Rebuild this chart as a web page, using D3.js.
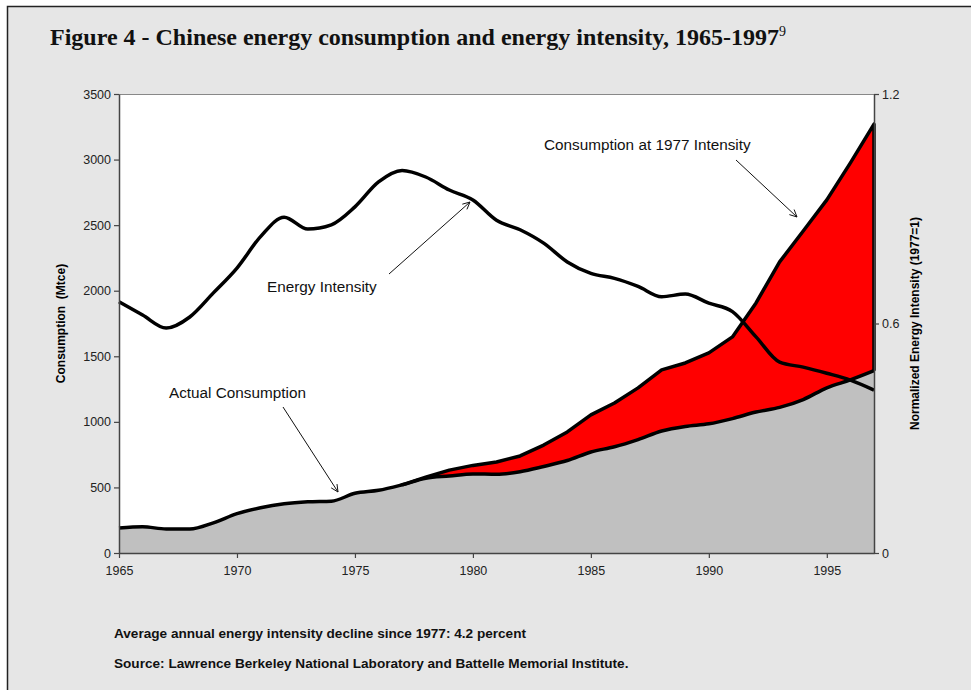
<!DOCTYPE html>
<meta charset="utf-8">
<head>
<title>Chinese energy consumption and energy intensity, 1965-1997</title>
<script src="https://cdn.jsdelivr.net/npm/d3@7/dist/d3.min.js"></script>
<style>
  body { margin: 0; background: #fff; }
  .tick text { font-family: Arial, "Liberation Sans", sans-serif; font-size: 12.5px; fill: #222; }
</style>
</head>
<body>
<div id="chart"></div>
<script>
// data
var years = d3.range(1965, 1998);
var actual = [190, 200, 183, 183, 230, 300, 345, 375, 390, 395, 455, 478, 520, 570, 587, 603,
              600, 620, 660, 705, 770, 810, 865, 930, 965, 985, 1025, 1075, 1110, 1170, 1260, 1320, 1390];
// consumption at 1977 intensity, 1977-1997
var at1977Years = d3.range(1977, 1998);
var at1977 = [520, 578, 632, 668, 694, 740, 823, 923, 1053, 1144, 1259, 1396, 1449, 1526, 1648,
              1907, 2220, 2455, 2693, 2975, 3270];
var intensity = [0.657, 0.622, 0.588, 0.617, 0.680, 0.745, 0.827, 0.878, 0.847, 0.858, 0.905,
                 0.970, 1.0, 0.983, 0.949, 0.923, 0.870, 0.845, 0.810, 0.761, 0.731, 0.718, 0.697,
                 0.670, 0.677, 0.653, 0.631, 0.565, 0.499, 0.486, 0.470, 0.452, 0.426];
var leftTicks = [0, 500, 1000, 1500, 2000, 2500, 3000, 3500];
var rightTicks = [0, 0.6, 1.2];
var xTicks = [1965, 1970, 1975, 1980, 1985, 1990, 1995];

var width = 971, height = 690;
var m = {top: 94, right: 97, bottom: 137, left: 119};
var iw = width - m.left - m.right, ih = height - m.top - m.bottom;
var font = 'Arial, "Liberation Sans", sans-serif';

var svg = d3.select("#chart").append("svg")
    .attr("width", width).attr("height", height);

// frame
svg.append("rect").attr("x", 7.5).attr("y", 6.5)
    .attr("width", width).attr("height", height)
    .attr("fill", "#e6e6e6").attr("stroke", "#222").attr("stroke-width", 1.5);

svg.append("text")
    .attr("x", 50).attr("y", 45)
    .style("font-family", '"Times New Roman", "Liberation Serif", serif')
    .style("font-weight", "bold").style("font-size", "24px").style("fill", "#111")
    .text("Figure 4 - Chinese energy consumption and energy intensity, 1965-1997")
  .append("tspan")
    .attr("dy", -9).style("font-size", "14px").style("font-weight", "normal")
    .text("9");

var g = svg.append("g").attr("transform", "translate(" + m.left + "," + m.top + ")");

var x = d3.scaleLinear().domain([1965, 1997]).range([0, iw]);
var y = d3.scaleLinear().domain([0, 3500]).range([ih, 0]);
var y2 = d3.scaleLinear().domain([0, 1.2]).range([ih, 0]);

g.append("rect").attr("width", iw).attr("height", ih).attr("fill", "#fff");

// red band between actual and 1977 intensity consumption
var band = at1977Years.map(function(yr, i) {
    return {yr: yr, hi: at1977[i], lo: actual[years.indexOf(yr)]};
});
g.append("path").datum(band)
    .attr("fill", "#ff0000")
    .attr("d", d3.area().x(function(d) { return x(d.yr); })
        .y0(function(d) { return y(d.lo); }).y1(function(d) { return y(d.hi); }));

// grey actual consumption area
var act = years.map(function(yr, i) { return {yr: yr, v: actual[i]}; });
g.append("path").datum(act)
    .attr("fill", "#c0c0c0")
    .attr("d", d3.area().curve(d3.curveMonotoneX)
        .x(function(d) { return x(d.yr); }).y0(ih).y1(function(d) { return y(d.v); }));

g.append("path").datum(act)
    .attr("fill", "none").attr("stroke", "#000").attr("stroke-width", 3.5)
    .attr("d", d3.line().curve(d3.curveMonotoneX)
        .x(function(d) { return x(d.yr); }).y(function(d) { return y(d.v); }));

// outline of the 1977 intensity curve plus its right edge
var last = band[band.length - 1];
g.append("path").datum(band.concat([{yr: last.yr, hi: last.lo}]))
    .attr("fill", "none").attr("stroke", "#000").attr("stroke-width", 3.5)
    .attr("stroke-linejoin", "round")
    .attr("d", d3.line().x(function(d) { return x(d.yr); }).y(function(d) { return y(d.hi); }));

// energy intensity line
g.append("path").datum(years.map(function(yr, i) { return {yr: yr, v: intensity[i]}; }))
    .attr("fill", "none").attr("stroke", "#000").attr("stroke-width", 3.5)
    .attr("d", d3.line().curve(d3.curveMonotoneX)
        .x(function(d) { return x(d.yr); }).y(function(d) { return y2(d.v); }));

// top border of plot
g.append("line").attr("x1", 0).attr("x2", iw).attr("y1", 0.5).attr("y2", 0.5)
    .attr("stroke", "#888").attr("stroke-width", 1);

// axes
var axL = g.append("g").call(d3.axisLeft(y).tickValues(leftTicks).tickSize(5).tickSizeOuter(0)
    .tickFormat(d3.format("d")));
var axR = g.append("g").attr("transform", "translate(" + iw + ",0)")
    .call(d3.axisRight(y2).tickValues(rightTicks).tickSize(5).tickSizeOuter(0)
        .tickFormat(function(d) { return d === 0 ? "0" : d3.format(".1f")(d); }));
var axB = g.append("g").attr("transform", "translate(0," + ih + ")")
    .call(d3.axisBottom(x).tickValues(xTicks).tickSize(5).tickSizeOuter(0).tickFormat(d3.format("d")));
[axL, axR, axB].forEach(function(a) {
    a.selectAll("path, line").attr("stroke", "#444").attr("stroke-width", 1.2);
    a.select(".domain").attr("stroke-width", 1.5);
});
axB.selectAll("text").attr("dy", "1.1em");

// axis titles
svg.append("text")
    .attr("transform", "translate(65," + (m.top + ih / 2) + ") rotate(-90)")
    .attr("text-anchor", "middle")
    .style("font-family", font).style("font-weight", "bold").style("font-size", "12px")
    .style("white-space", "pre").attr("xml:space", "preserve")
    .text("Consumption  (Mtce)");
svg.append("text")
    .attr("transform", "translate(919," + (m.top + ih / 2) + ") rotate(-90)")
    .attr("text-anchor", "middle")
    .style("font-family", font).style("font-weight", "bold").style("font-size", "12px")
    .text("Normalized Energy Intensity (1977=1)");

// annotations
var notes = [
    {t: "Energy Intensity", tx: 267, ty: 292, x1: 389, y1: 274, x2: 470, y2: 202},
    {t: "Consumption at 1977 Intensity", tx: 544, ty: 150, x1: 736, y1: 160, x2: 797, y2: 217},
    {t: "Actual Consumption", tx: 169, ty: 398, x1: 283, y1: 407, x2: 338, y2: 492}
];
notes.forEach(function(n) {
    svg.append("text").attr("x", n.tx).attr("y", n.ty)
        .style("font-family", font).style("font-size", "15.3px").style("fill", "#111")
        .text(n.t);
    svg.append("line").attr("x1", n.x1).attr("y1", n.y1).attr("x2", n.x2).attr("y2", n.y2)
        .attr("stroke", "#111").attr("stroke-width", 1);
    var a = Math.atan2(n.y2 - n.y1, n.x2 - n.x1), L = 8, s = 0.45;
    svg.append("path")
        .attr("d", "M" + (n.x2 - L * Math.cos(a - s)) + "," + (n.y2 - L * Math.sin(a - s)) +
             "L" + n.x2 + "," + n.y2 +
             "L" + (n.x2 - L * Math.cos(a + s)) + "," + (n.y2 - L * Math.sin(a + s)))
        .attr("fill", "none").attr("stroke", "#111").attr("stroke-width", 1);
});

// footnotes
svg.append("text").attr("x", 114).attr("y", 638)
    .style("font-family", font).style("font-weight", "bold").style("font-size", "13.6px").style("fill", "#111")
    .text("Average annual energy intensity decline since 1977: 4.2 percent");
svg.append("text").attr("x", 114).attr("y", 668)
    .style("font-family", font).style("font-weight", "bold").style("font-size", "13.6px").style("fill", "#111")
    .text("Source: Lawrence Berkeley National Laboratory and Battelle Memorial Institute.");
</script>
</body>
</html>
